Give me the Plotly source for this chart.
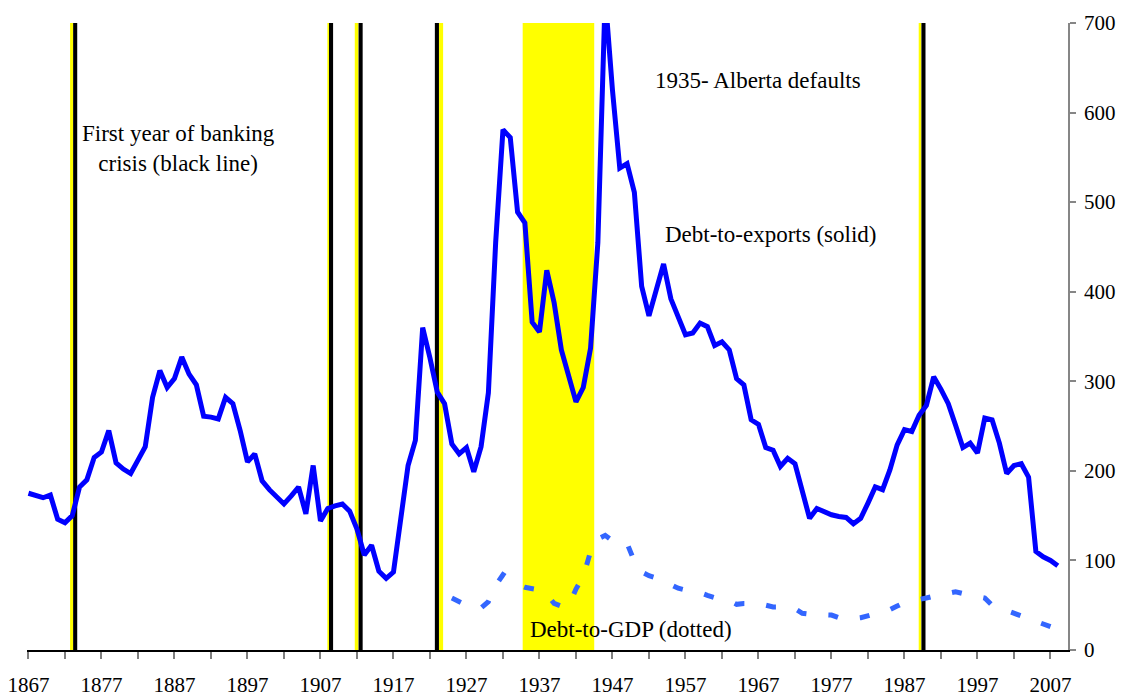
import plotly.graph_objects as go

# ---- data ----
years_exports = list(range(1867, 2009))
debt_to_exports = [
    175, 172, 170, 173, 146, 142, 150, 182, 190, 215,   # 1867-1876
    221, 245, 209, 202, 197, 212, 227, 282, 312, 293,   # 1877-1886
    303, 327, 308, 296, 261, 260, 258, 282, 275, 245,   # 1887-1896
    210, 219, 189, 179, 171, 163, 172, 182, 152, 206,   # 1897-1906
    144, 158, 161, 163, 155, 135, 106, 117, 88, 80,     # 1907-1916
    87, 145, 206, 234, 360, 326, 288, 275, 230, 219,    # 1917-1926
    226, 199, 227, 287, 455, 581, 572, 489, 477, 366,   # 1927-1936
    355, 424, 388, 335, 306, 277, 293, 337, 455, 730,   # 1937-1946
    625, 538, 543, 511, 406, 373, 402, 431, 392, 370,   # 1947-1956
    352, 354, 365, 361, 340, 344, 335, 303, 296, 257,   # 1957-1966
    252, 226, 223, 205, 214, 208, 175, 147, 158, 154,   # 1967-1976
    151, 149, 148, 141, 147, 164, 182, 179, 201, 229,   # 1977-1986
    246, 244, 262, 273, 305, 291, 275, 251, 226, 231,   # 1987-1996
    220, 259, 257, 231, 197, 206, 208, 193, 110, 104,   # 1997-2006
    100, 94,                                            # 2007-2008
]

years_gdp = list(range(1925, 2009))
debt_to_gdp = [
    58, 54, 50, 48, 47, 54, 72, 84, 78, 73,             # 1925-1934
    70, 69, 67, 62, 52, 49, 49, 68, 82, 110,            # 1935-1944
    124, 128, 122, 122, 119, 99, 87, 83, 80, 78,        # 1945-1954
    73, 69, 67, 66, 64, 61, 58, 56, 55, 51,             # 1955-1964
    52, 52, 52, 50, 48, 48, 48, 46, 41, 40,             # 1965-1974
    40, 39, 39, 36, 35, 35, 36, 38, 40, 42,             # 1975-1984
    45, 49, 53, 55, 56, 58, 60, 62, 64, 65,             # 1985-1994
    63, 61, 60, 58, 50, 47, 44, 41, 38, 35,             # 1995-2004
    32, 29, 26, 23,                                     # 2005-2008
]

# first year of banking crisis (black lines)
crisis_lines = [1873.4, 1908.45, 1912.5, 1922.95, 1989.6]
# thin yellow strips beside the crisis lines
yellow_strips = [(1872.7, 1873.1), (1907.95, 1908.2), (1911.7, 1912.2),
                 (1923.2, 1923.8), (1988.95, 1989.3)]
# default period (Alberta)
default_periods = [(1934.7, 1944.5)]

x_tick_labels = list(range(1867, 2008, 10))
y_ticks = list(range(0, 701, 100))

FONT = "Liberation Serif"

fig = go.Figure()

fig.add_trace(go.Scatter(
    x=years_exports, y=debt_to_exports, mode="lines",
    line=dict(color="#0000FF", width=5), showlegend=False, hoverinfo="skip"))

fig.add_trace(go.Scatter(
    x=years_gdp, y=debt_to_gdp, mode="lines",
    line=dict(color="#3366FF", width=5, dash="10px,22px"),
    showlegend=False, hoverinfo="skip"))

shapes = []
for a, b in default_periods:
    shapes.append(dict(type="rect", xref="x", yref="y", x0=a, x1=b, y0=0, y1=700,
                       fillcolor="#FFFF00", line=dict(width=0), layer="below"))
for a, b in yellow_strips:
    shapes.append(dict(type="rect", xref="x", yref="y", x0=a, x1=b, y0=0, y1=700,
                       fillcolor="#FFFF00", line=dict(width=0), layer="below"))
for c in crisis_lines:
    shapes.append(dict(type="rect", xref="x", yref="y", x0=c - 0.28, x1=c + 0.28,
                       y0=0, y1=700, fillcolor="#000000", line=dict(width=0),
                       layer="below"))

annotations = [
    dict(x=1887.5, y=560, text="First year of banking<br>crisis (black line)"),
    dict(x=1966.9, y=636, text="1935- Alberta defaults"),
    dict(x=1968.7, y=464, text="Debt-to-exports (solid)"),
    dict(x=1949.6, y=23, text="Debt-to-GDP (dotted)"),
]
for a in annotations:
    a.update(xref="x", yref="y", showarrow=False, xanchor="center",
             yanchor="middle", font=dict(family=FONT, size=23, color="black"))

fig.update_layout(
    width=1123, height=696,
    margin=dict(l=27, r=55, t=23, b=46),
    plot_bgcolor="white", paper_bgcolor="white",
    shapes=shapes, annotations=annotations,
    font=dict(family=FONT, size=21, color="black"),
    xaxis=dict(
        range=[1866.8, 2009.4], showgrid=False, zeroline=False, automargin=False,
        showline=True, linecolor="black", linewidth=1.5,
        tickmode="array", tickvals=x_tick_labels,
        ticktext=[str(v) for v in x_tick_labels],
        ticks="outside", ticklen=7, tickcolor="#7f7f7f", tickwidth=1.5,
        ticklabelstandoff=8,
        minor=dict(dtick=5, tick0=1867, ticks="outside", ticklen=7,
                   tickcolor="#7f7f7f", tickwidth=1.5, showgrid=False),
        tickfont=dict(family=FONT, size=21, color="black"),
    ),
    yaxis=dict(
        range=[0, 700], side="right", showgrid=False, zeroline=False,
        automargin=False,
        showline=True, linecolor="#868686", linewidth=1.5,
        tickvals=y_ticks, ticks="outside", ticklen=6, tickcolor="#868686",
        tickwidth=1.5, ticklabelstandoff=4,
        tickfont=dict(family=FONT, size=21, color="black"),
    ),
)

fig.write_html(
    "out.html",
    config={"displayModeBar": False},
    post_script="document.body.style.margin='0';document.body.style.padding='0';",
)
